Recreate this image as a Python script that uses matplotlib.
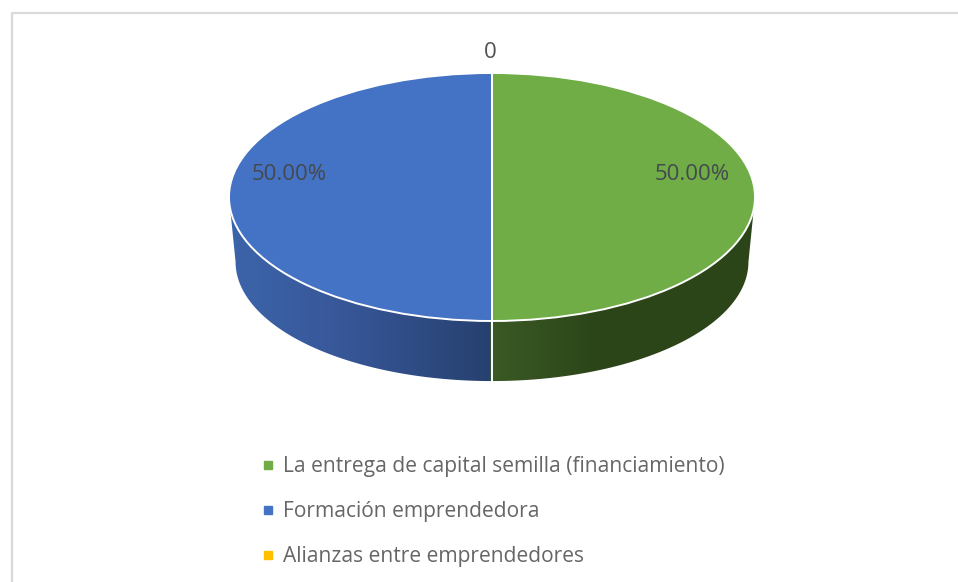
import numpy as np
import matplotlib
matplotlib.use('Agg')
import matplotlib.pyplot as plt
from matplotlib.lines import Line2D
from matplotlib.patches import Polygon

categories = ['La entrega de capital semilla (financiamiento)',
              'Formación emprendedora',
              'Alianzas entre emprendedores']
values = [50.0, 50.0, 0.0]
colors = ['#70AD47', '#4472C4', '#FFC000']
W, H = 958, 582

plt.rcParams['font.family'] = ['Open Sans', 'DejaVu Sans']
fig = plt.figure(figsize=(W / 100, H / 100), dpi=100, facecolor='white')

# chart border, only top and left show in the screenshot
fig.add_artist(Line2D([12 / W, 12 / W, 1], [0, 1 - 12.5 / H, 1 - 12.5 / H], color='#D9D9D9', lw=1.6))

# top of the pie is 526x248 px, squashed on purpose
cx, cy, rx, ry = 492, 197, 263, 124
ax = fig.add_axes([(cx - rx) / W, 1 - (cy + ry) / H, 2 * rx / W, 2 * ry / H])
ax.pie(values, colors=colors, startangle=90, counterclock=False, radius=1,
       wedgeprops=dict(edgecolor='white', linewidth=1.4))
ax.set_aspect('auto')
for p in ax.patches:
    p.set_clip_on(False)

# side wall: gradient clipped to the band between top rim and lower rim
depth = 0.524
shrink = 0.975
t = np.linspace(np.pi, 2 * np.pi, 200)
top_x, top_y = np.cos(t), np.sin(t)
low_x, low_y = shrink * np.cos(t), shrink * np.sin(t) * 0.985 - depth
wall = np.vstack([np.column_stack([top_x, top_y]),
                  np.column_stack([low_x, low_y])[::-1]])
clip = Polygon(wall, closed=True, transform=ax.transData, fc='none', ec='none')
ax.add_patch(clip)

stops_x = [-1.0, -0.6, -0.006, -0.004, 0.4, 1.0]
stops_c = ['#3C64AA', '#38589A', '#26406F', '#3B5A25', '#2B4519', '#2B4519']
xs = np.linspace(-1, 1, 1052)
rgb = np.array([matplotlib.colors.to_rgb(c) for c in stops_c])
grad = np.stack([np.interp(xs, stops_x, rgb[:, i]) for i in range(3)], axis=-1)[None, :, :]
im = ax.imshow(grad, extent=[-1, 1, -1.6, 0], aspect='auto', zorder=0.5, interpolation='nearest')
im.set_clip_box(fig.bbox)
im.set_clip_path(clip)
ax.plot([0, 0], [-1, low_y.min()], color='white', lw=1.4, clip_on=False, zorder=0.6)
ax.set_xlim(-1, 1)
ax.set_ylim(-1, 1)

# data labels
ax.text(0.76, 0.178, f'{values[0]:.2f}%', ha='center', va='center', fontsize=16, color='#44494F')
ax.text(-0.77, 0.178, f'{values[1]:.2f}%', ha='center', va='center', fontsize=16, color='#44494F')
ax.text(-0.005, 1.165, f'{values[2]:.0f}', ha='center', va='center', fontsize=16, color='#505050', clip_on=False)

handles = [Line2D([], [], ls='none', marker='s', ms=6, color=c) for c in colors]
fig.legend(handles, categories, loc='upper left', bbox_to_anchor=(258 / W, 1 - 456 / H),
           frameon=False, fontsize=15.1, labelcolor='#666666', labelspacing=1.15,
           handletextpad=0.2, handlelength=1, borderpad=0, borderaxespad=0)

fig.savefig('out.png', dpi=100, facecolor='white')
